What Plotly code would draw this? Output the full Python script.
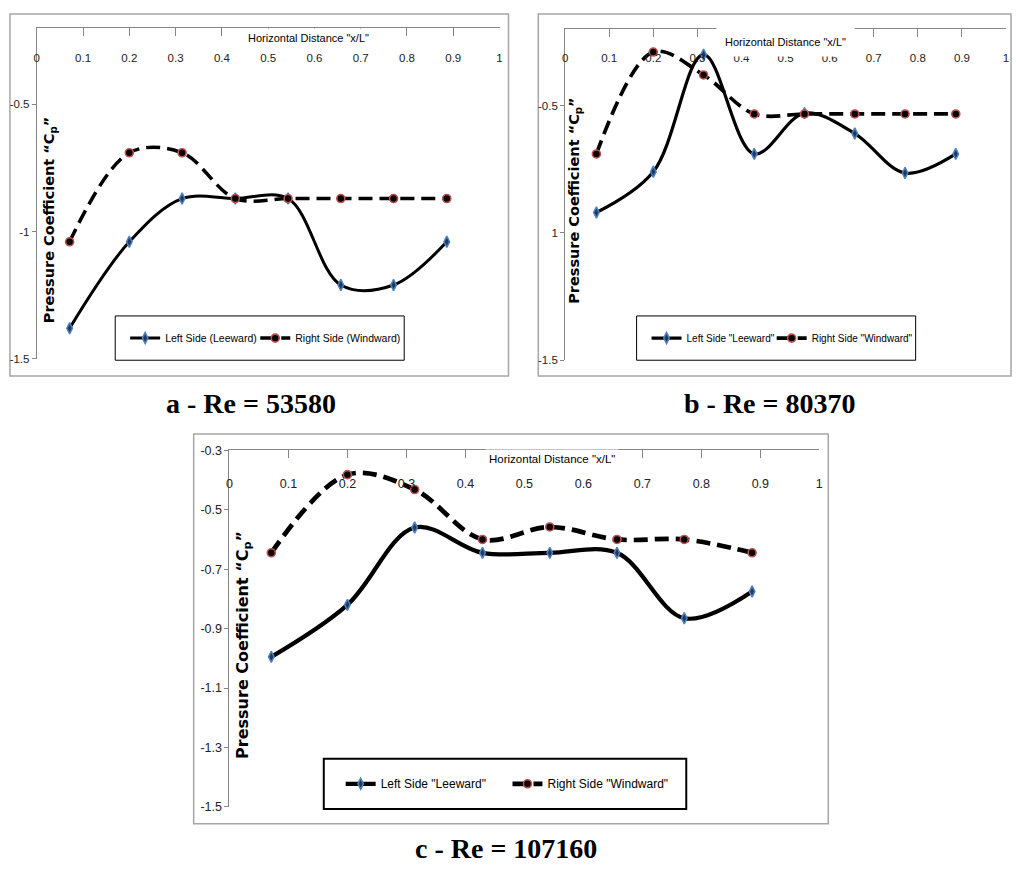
import plotly.graph_objects as go

# ---------------- data ----------------
x_pos = [0.071, 0.2, 0.314, 0.429, 0.543, 0.657, 0.771, 0.886]

lee_a = [-1.38, -1.04, -0.87, -0.87, -0.87, -1.21, -1.21, -1.04]
wind_a = [-1.04, -0.69, -0.69, -0.87, -0.87, -0.87, -0.87, -0.87]

lee_b = [-0.92, -0.76, -0.30, -0.69, -0.53, -0.61, -0.765, -0.69]
wind_b = [-0.69, -0.29, -0.38, -0.533, -0.533, -0.533, -0.533, -0.533]

lee_c = [-0.995, -0.82, -0.56, -0.645, -0.645, -0.645, -0.865, -0.775]
wind_c = [-0.645, -0.382, -0.432, -0.60, -0.558, -0.60, -0.60, -0.645]

x_tick_vals = [0, 0.1, 0.2, 0.3, 0.4, 0.5, 0.6, 0.7, 0.8, 0.9, 1]
x_tick_text = ["0", "0.1", "0.2", "0.3", "0.4", "0.5", "0.6", "0.7", "0.8", "0.9", "1"]

y_tick_vals_ab = [-1.5, -1.0, -0.5]
y_tick_text_a = ["-1.5", "-1", "-0.5"]
y_tick_text_b = ["-1.5", "1", "-0.5"]
y_tick_vals_c = [-1.5, -1.3, -1.1, -0.9, -0.7, -0.5, -0.3]
y_tick_text_c = ["-1.5", "-1.3", "-1.1", "-0.9", "-0.7", "-0.5", "-0.3"]

names_a = ["Left Side (Leeward)", "Right Side (Windward)"]
names_bc = ['Left Side "Leeward"', 'Right Side "Windward"']
captions = ["a - Re = 53580", "b - Re = 80370", "c - Re = 107160"]
x_title = 'Horizontal Distance "x/L"'
y_title = "Pressure Coefficient \u201cC<sub>p</sub>\u201d"

# ---------------- layout helpers ----------------
W, H = 1016, 871
SANS = "Liberation Sans, Arial, sans-serif"
AX = "#868686"
BLUE = "#4F81BD"
RED = "#C0504D"


def px(v):
    return v / W


def py(v):
    return 1 - v / H


fig = go.Figure()

# leeward on the main x axis, windward on the overlaid label axis (same range/domain)
panels = [
    dict(xa="x", xl="x4", ya="y", lee=lee_a, wind=wind_a, names=names_a, legs=("legend", "legend2"), lw=3.0),
    dict(xa="x2", xl="x5", ya="y2", lee=lee_b, wind=wind_b, names=names_bc, legs=("legend3", "legend4"), lw=3.2),
    dict(xa="x3", xl="x6", ya="y3", lee=lee_c, wind=wind_c, names=names_bc, legs=("legend5", "legend6"), lw=4.2),
]

for p in panels:
    fig.add_trace(go.Scatter(
        x=x_pos, y=p["lee"], name=p["names"][0], mode="lines+markers",
        xaxis=p["xa"], yaxis=p["ya"], legend=p["legs"][0],
        line=dict(color="black", width=p["lw"], shape="spline", smoothing=1.0),
        marker=dict(symbol="diamond-tall", size=8, color="#1F3A60",
                    line=dict(color=BLUE, width=1.5)),
    ))
    fig.add_trace(go.Scatter(
        x=x_pos, y=p["wind"], name=p["names"][1], mode="lines+markers",
        xaxis=p["xl"], yaxis=p["ya"], legend=p["legs"][1],
        line=dict(color="black", width=p["lw"] + 0.5, shape="spline", smoothing=1.0,
                  dash="14px,7px"),
        marker=dict(symbol="circle", size=8, color="black",
                    line=dict(color=RED, width=1.6)),
    ))


def xaxis_cfg(dom, anchor):
    return dict(
        domain=dom, anchor=anchor, range=[0, 1], side="top",
        tickmode="array", tickvals=x_tick_vals, ticktext=x_tick_text,
        ticks="inside", ticklen=8, tickcolor=AX, tickwidth=1,
        showline=True, linecolor=AX, linewidth=1,
        showticklabels=False, showgrid=False, zeroline=False,
    )


def xlabel_cfg(dom, over, pos, fsize):
    # label-only axis placed just below the top axis line
    return dict(
        domain=dom, overlaying=over, anchor="free", position=pos, side="bottom",
        range=[0, 1], tickmode="array", tickvals=x_tick_vals, ticktext=x_tick_text,
        ticks="", showline=False, showgrid=False, zeroline=False,
        tickfont=dict(family=SANS, size=fsize, color="#222222"),
    )


def yaxis_cfg(dom, anchor, rng, vals, text, fsize):
    return dict(
        domain=dom, anchor=anchor, range=rng,
        tickmode="array", tickvals=vals, ticktext=text,
        ticks="outside", ticklen=4, tickcolor=AX, tickwidth=1,
        showline=True, linecolor=AX, linewidth=1,
        showgrid=False, zeroline=False,
        tickfont=dict(family=SANS, size=fsize, color="#222222"),
    )


dom_a = [px(34), px(500)]
dom_b = [px(566), px(1010)]
dom_c = [px(228), px(822)]

fig.update_layout(
    width=W, height=H,
    margin=dict(l=0, r=0, t=0, b=0),
    paper_bgcolor="white", plot_bgcolor="white",
    showlegend=True,
    xaxis=xaxis_cfg(dom_a, "y"),
    yaxis=yaxis_cfg([py(357.5), py(21.5)], "x", [-1.5, -0.2], y_tick_vals_ab, y_tick_text_a, 11.5),
    xaxis2=xaxis_cfg(dom_b, "y2"),
    yaxis2=yaxis_cfg([py(359), py(22.5)], "x2", [-1.5, -0.2], y_tick_vals_ab, y_tick_text_b, 11.5),
    xaxis3=xaxis_cfg(dom_c, "y3"),
    yaxis3=yaxis_cfg([py(813), py(450.5)], "x3", [-1.5, -0.2999], y_tick_vals_c, y_tick_text_c, 12.5),
    xaxis4=xlabel_cfg(dom_a, "x", py(43), 11.5),
    xaxis5=xlabel_cfg(dom_b, "x2", py(43), 11.5),
    xaxis6=xlabel_cfg(dom_c, "x3", py(475), 12.5),
)

# one legend per entry so each entry sits where the reference puts it
leg_common = dict(orientation="h", xanchor="left", yanchor="middle",
                  bgcolor="rgba(0,0,0,0)", borderwidth=0, itemwidth=30, visible=True)
leg_pos = [(123, 336.5, 10.5), (254, 336.5, 10.5),
           (648, 336.5, 10), (774, 336.5, 10),
           (340, 789.5, 12), (508, 789.5, 12)]
for i, (lx, ly, fs) in enumerate(leg_pos):
    key = "legend" if i == 0 else "legend%d" % (i + 1)
    fig.update_layout({key: dict(leg_common, x=px(lx), y=py(ly),
                                 font=dict(family=SANS, size=fs, color="black"))})

shapes = []
# outer chart frames
for (x0, y0, x1, y1) in [(7, 7, 509, 375), (539, 7, 1015, 375), (192, 434, 831, 830)]:
    shapes.append(dict(type="rect", xref="paper", yref="paper",
                       x0=px(x0), x1=px(x1), y0=py(y1), y1=py(y0),
                       line=dict(color="#A6A6A6", width=1.5), fillcolor="rgba(0,0,0,0)",
                       layer="below"))
# legend boxes
for (x0, y0, x1, y1, lw) in [(113, 314, 404, 359, 1), (638, 314, 919, 359, 1), (323, 764, 688, 815, 2)]:
    shapes.append(dict(type="rect", xref="paper", yref="paper",
                       x0=px(x0), x1=px(x1), y0=py(y1), y1=py(y0),
                       line=dict(color="black", width=lw), fillcolor="white",
                       layer="above"))
fig.update_layout(shapes=shapes)

ann = []
# x axis titles (with white background over the axis line)
for (cx, cy, fs, pad) in [(308, 31, 11, 3), (788, 36, 11, 8), (553, 459, 11.5, 3)]:
    ann.append(dict(text=x_title, xref="paper", yref="paper", x=px(cx), y=py(cy),
                    xanchor="center", yanchor="middle", showarrow=False,
                    bgcolor="white", borderpad=pad,
                    font=dict(family=SANS, size=fs, color="black")))
# y axis titles (inside plot area)
for (cx, cy, fs) in [(47, 216, 14.5), (576, 197, 14.5), (242, 648, 16)]:
    ann.append(dict(text="<b>" + y_title + "</b>", xref="paper", yref="paper",
                    x=px(cx), y=py(cy), xanchor="center", yanchor="middle",
                    textangle=-90, showarrow=False,
                    font=dict(family="DejaVu Sans", size=fs, color="black")))
# captions
for (txt, cx, cy) in zip(captions, [250, 772, 506], [403, 403, 855]):
    ann.append(dict(text="<b>" + txt + "</b>", xref="paper", yref="paper",
                    x=px(cx), y=py(cy), xanchor="center", yanchor="middle",
                    showarrow=False,
                    font=dict(family="Liberation Serif, Times New Roman, serif", size=28,
                              color="black")))
fig.update_layout(annotations=ann)

fig.write_html("out.html")
